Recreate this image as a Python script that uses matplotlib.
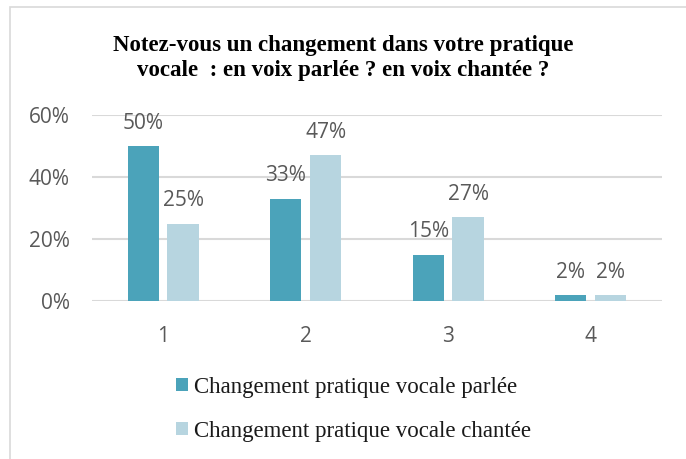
import matplotlib.pyplot as plt
import matplotlib.patches as mpatches
import numpy as np

categories = ['1', '2', '3', '4']
parlee = [0.50, 0.33, 0.15, 0.02]
chantee = [0.25, 0.47, 0.27, 0.02]
labels_parlee = ['50%', '33%', '15%', '2%']
labels_chantee = ['25%', '47%', '27%', '2%']

dark = '#4BA3BA'
light = '#B7D5E0'
gray = '#595959'

fig = plt.figure(figsize=(6.86, 4.59), dpi=100)
fig.patches.append(mpatches.Rectangle((10 / 686, -0.1), 1.2, 1.1 - 7 / 459,
                                      transform=fig.transFigure, fill=False,
                                      edgecolor='#D9D9D9', linewidth=1.2))

ax = fig.add_axes([0.134, 0.344, 0.831, 0.405])
x = np.arange(len(categories))
w = 0.22
off = 0.14
b1 = ax.bar(x - off, parlee, w, color=dark, label='Changement pratique vocale parlée', zorder=3)
b2 = ax.bar(x + off, chantee, w, color=light, label='Changement pratique vocale chantée', zorder=3)

for rect, lab in zip(b1, labels_parlee):
    ax.text(rect.get_x() + rect.get_width() / 2, rect.get_height() + 0.04, lab,
            ha='center', va='bottom', fontsize=15, color=gray, family='Open Sans')
for rect, lab in zip(b2, labels_chantee):
    ax.text(rect.get_x() + rect.get_width() / 2, rect.get_height() + 0.04, lab,
            ha='center', va='bottom', fontsize=15, color=gray, family='Open Sans')

ax.set_xlim(-0.5, 3.5)
ax.set_ylim(0, 0.6)
ax.set_yticks([0, 0.2, 0.4, 0.6])
ax.set_yticklabels(['0%', '20%', '40%', '60%'])
ax.set_xticks(x)
ax.set_xticklabels(categories)
ax.tick_params(length=0, labelsize=15, labelcolor=gray)
ax.tick_params(axis='x', pad=18)
ax.tick_params(axis='y', pad=16)
for t in ax.get_xticklabels() + ax.get_yticklabels():
    t.set_family('Open Sans')
ax.grid(axis='y', color='#D9D9D9', linewidth=1.5, zorder=0)
for s in ax.spines.values():
    s.set_visible(False)

fig.text(0.5, 1 - 58 / 459, 'Notez-vous un changement dans votre pratique\nvocale  : en voix parlée ? en voix chantée ?',
         ha='center', va='center', fontsize=16.5, fontweight='bold',
         family='Liberation Serif', linespacing=1.25)

fig.legend(handles=[b1, b2], loc='upper left', bbox_to_anchor=(155 / 686, 1 - 356 / 459),
           frameon=False, prop={'family': 'Liberation Serif', 'size': 16.5},
           handlelength=0.55, handleheight=0.55, handletextpad=0.25, labelspacing=1.0,
           labelcolor='#1a1a1a')

fig.savefig('out.png', dpi=100)
